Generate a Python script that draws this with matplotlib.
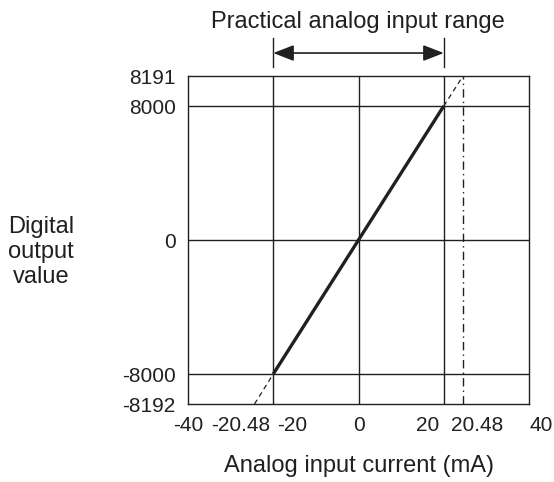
import matplotlib
matplotlib.use("Agg")
import matplotlib.pyplot as plt
import matplotlib.transforms as mtransforms
import numpy as np

plt.rcParams['font.family'] = ['Liberation Sans', 'DejaVu Sans']

# values
x_ticks = [-40, -20.48, -20, 0, 20, 20.48, 40]
x_tick_labels = ['-40', '-20.48', '-20', '0', '20', '20.48', '40']
y_ticks = [-8192, -8000, 0, 8000, 8191]
y_tick_labels = ['-8192', '-8000', '0', '8000', '8191']
line_x = [-20, 0, 20]
line_y = [-8000, 0, 8000]
ext_low_x = [-20.48, -20]
ext_low_y = [-8192, -8000]
ext_high_x = [20, 20.48]
ext_high_y = [8000, 8191]
grid_x = [-20, 0, 20]
grid_y = [-8000, 0, 8000]
limit_x = 20.48
range_lo, range_hi = -20, 20

# schematic (non-linear) axis spacing, as in the drawing
xs_val = [-40, -20.48, -20, 0, 20, 20.48, 40]
xs_pos = [0, 66.5, 85.25, 170.5, 255.75, 275, 341]
ys_val = [-8192, -8000, 0, 8000, 8191]
ys_pos = [0, 30, 164, 298, 328]

def xf(v):
    return np.interp(v, xs_val, xs_pos)

def xi(p):
    return np.interp(p, xs_pos, xs_val)

def yf(v):
    return np.interp(v, ys_val, ys_pos)

def yi(p):
    return np.interp(p, ys_pos, ys_val)

col = '#231f20'

fig = plt.figure(figsize=(5.54, 4.82), dpi=100)
ax = fig.add_axes([188/554, 1-404/482, 341/554, 328/482])
ax.set_xscale('function', functions=(xf, xi))
ax.set_yscale('function', functions=(yf, yi))
ax.set_xlim(-40, 40)
ax.set_ylim(-8192, 8191)

for s in ax.spines.values():
    s.set_color(col)
    s.set_linewidth(1.0)

for gx in grid_x:
    ax.axvline(gx, color=col, lw=1.0)
for gy in grid_y:
    ax.axhline(gy, color=col, lw=1.0)
ax.axvline(limit_x, color=col, lw=1.0, ls=(0, (6, 3, 1, 3)))

ax.plot(ext_low_x, ext_low_y, color=col, lw=0.9, ls=(0, (4, 3)))
ax.plot(ext_high_x, ext_high_y, color=col, lw=0.9, ls=(0, (4, 3)))
ax.plot(line_x, line_y, color=col, lw=2.4, solid_capstyle='butt')

ax.set_yticks(y_ticks, y_tick_labels)
ax.tick_params(axis='y', length=0, pad=9, labelsize=15, colors=col)
ax.set_xticks([])
ax.minorticks_off()

# x tick labels, spread apart like in the drawing
x_offsets = [0, -14, 19, 0, -16, 14, 12]
trans = mtransforms.blended_transform_factory(ax.transData, ax.transAxes)
for v, lab, dx in zip(x_ticks, x_tick_labels, x_offsets):
    t = trans + mtransforms.ScaledTranslation(dx/100, 0, fig.dpi_scale_trans)
    ax.text(v, -0.065, lab, transform=t, ha='center', va='center',
            fontsize=15, color=col, clip_on=False)

fig.text(359/554, 1-472/482, 'Analog input current (mA)', ha='center',
         va='baseline', fontsize=17, color=col)
fig.text(41/554, 1-252/482, 'Digital\noutput\nvalue', ha='center', va='center',
         fontsize=17, color=col, linespacing=1.2)

# practical range arrow
for v in [range_lo, range_hi]:
    ax.plot([v, v], [1.027, 1.116], transform=trans, color=col, lw=1.0,
            clip_on=False)
ax.annotate('', xy=(range_hi, 1.07), xytext=(range_lo, 1.07),
            xycoords=trans, textcoords=trans,
            arrowprops=dict(arrowstyle='<|-|>,head_length=0.9,head_width=0.35',
                            mutation_scale=14, lw=1.2, color=col,
                            shrinkA=0, shrinkB=0))
fig.text(358/554, 1-28/482, 'Practical analog input range', ha='center',
         va='baseline', fontsize=17, color=col)

fig.savefig('out.png', dpi=100)
